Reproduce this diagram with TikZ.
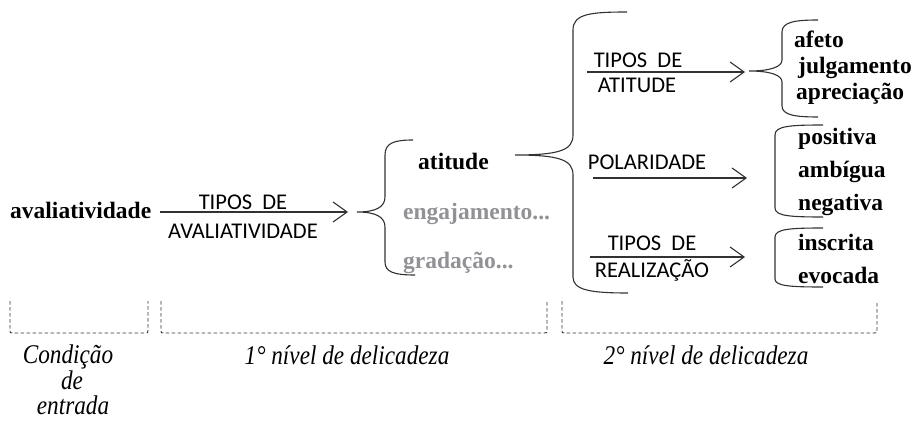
\documentclass[tikz,border=0pt]{standalone}
\usepackage{fontspec}
\setmainfont{Liberation Serif}
\newfontfamily\sansf{Carlito}
\newfontfamily\capf[FakeStretch=0.86]{Liberation Serif}
\usetikzlibrary{arrows.meta}
\definecolor{ln}{RGB}{50,50,50}
\definecolor{gr}{RGB}{145,145,150}
\begin{document}
\begin{tikzpicture}[x=1pt,y=-1pt,
  boldtxt/.style={font=\fontsize{23.5}{27}\selectfont\bfseries, inner sep=0pt, anchor=base west},
  gboldtxt/.style={boldtxt, text=gr},
  labtxt/.style={font=\sansf\fontsize{22.5}{26}\selectfont, inner sep=0pt, anchor=base},
  captxt/.style={font=\capf\itshape\fontsize{27}{30}\selectfont, inner sep=0pt, anchor=base},
  arrline/.style={draw=ln, line width=1.1pt, -{Straight Barb[length=14pt,width=20pt]}},
  braceline/.style={draw=ln, line width=1.1pt},
  dashline/.style={draw=ln, line width=0.9pt, dash pattern=on 3.5pt off 2.5pt}]
\useasboundingbox (0,0) rectangle (912,422);

% entry
\node[boldtxt] (aval) at (10,218) {avaliatividade};
\coordinate (b1tip) at (357,212);
\coordinate (a1s) at (160,212);
\coordinate (a1e) at (348,212);
\draw[arrline] (a1s) -- (a1e);
\node[labtxt] (t1a) at (243,209) {TIPOS~~DE};
\node[labtxt] (t1b) at (243,238) {AVALIATIVIDADE};

% brace 1
\draw[braceline] (413,140) .. controls (394,140) and (385,143) .. (385,155) -- (385,197)
  .. controls (385,207) and (376,212) .. (b1tip)
  .. controls (376,212) and (385,217) .. (385,227) -- (385,262)
  .. controls (385,272) and (394,275) .. (415,275);

\node[boldtxt] (atit) at (418,170) {atitude};
\node[gboldtxt] (eng) at (403,219) {engajamento...};
\node[gboldtxt] (grad) at (403,268) {gradação...};

% brace 2
\coordinate (b2tip) at (515,155);
\draw[braceline] (627,12) .. controls (590,12) and (573,14) .. (573,30) -- (573,135)
  .. controls (573,150) and (560,155) .. (b2tip)
  .. controls (560,155) and (573,160) .. (573,175) -- (573,277)
  .. controls (573,290) and (590,293) .. (628,293);

% tipos de atitude
\coordinate (a2s) at (587,72);
\coordinate (a2e) at (745,72);
\draw[arrline] (a2s) -- (a2e);
\node[labtxt] (t2a) at (638,68) {TIPOS~~DE};
\node[labtxt] (t2b) at (637,93) {ATITUDE};

% brace 3
\coordinate (b3tip) at (749,71);
\draw[braceline] (818,20) .. controls (795,20) and (782,22) .. (782,32) -- (782,60)
  .. controls (782,67) and (770,71) .. (b3tip)
  .. controls (770,71) and (782,75) .. (782,82) -- (782,106)
  .. controls (782,115) and (795,117) .. (818,117);
\node[boldtxt] (afeto) at (794,48) {afeto};
\node[boldtxt] (julg) at (798,74) {julgamento};
\node[boldtxt] (apre) at (796,100) {apreciação};

% polaridade
\coordinate (a3s) at (593,178);
\coordinate (a3e) at (747,178);
\draw[arrline] (a3s) -- (a3e);
\node[labtxt] (pol) at (647,170) {POLARIDADE};

% brace 4
\draw[braceline] (823,125) .. controls (790,125) and (775,126) .. (775,135) -- (775,208)
  .. controls (775,216) and (790,217) .. (823,217);
\node[boldtxt] (pos) at (798,145) {positiva};
\node[boldtxt] (amb) at (798,178) {ambígua};
\node[boldtxt] (neg) at (798,211) {negativa};

% tipos de realizacao
\coordinate (a4s) at (590,257);
\coordinate (a4e) at (745,257);
\draw[arrline] (a4s) -- (a4e);
\node[labtxt] (t4a) at (652,250) {TIPOS~~DE};
\node[labtxt] (t4b) at (652,277) {REALIZAÇÃO};

% brace 5
\draw[braceline] (823,228) .. controls (790,228) and (775,229) .. (775,237) -- (775,279)
  .. controls (775,286) and (790,287) .. (823,287);
\node[boldtxt] (insc) at (798,250) {inscrita};
\node[boldtxt] (evoc) at (798,283) {evocada};

% dashed brackets
\draw[dashline] (10,301) -- (10,330) .. controls (10,333) .. (13,333) -- (145,333)
  .. controls (148,333) .. (148,330) -- (148,301);
\draw[dashline] (161,301) -- (161,330) .. controls (161,333) .. (164,333) -- (544,333)
  .. controls (547,333) .. (547,330) -- (547,301);
\draw[dashline] (562,301) -- (562,330) .. controls (562,333) .. (565,333) -- (874,333)
  .. controls (877,333) .. (877,330) -- (877,301);

\node[captxt] (c1) at (68,363) {Condição};
\node[captxt] (c2) at (72,389) {de};
\node[captxt] (c3) at (73,414) {entrada};
\node[captxt] (l1) at (347,364) {1° nível de delicadeza};
\node[captxt] (l2) at (706,364) {2° nível de delicadeza};
\end{tikzpicture}
\end{document}
